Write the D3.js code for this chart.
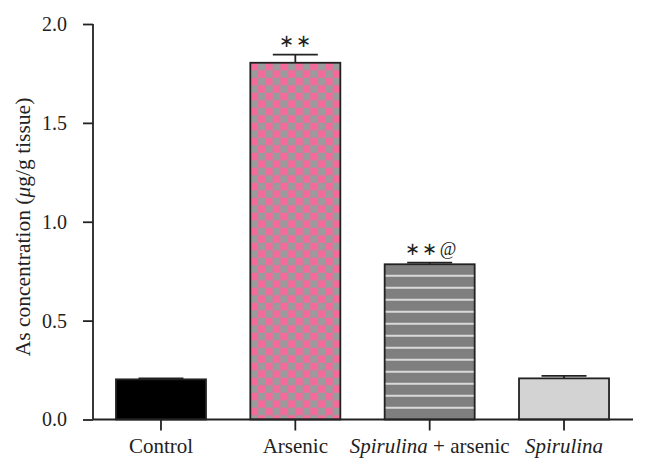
<!DOCTYPE html>
<html><head><meta charset="utf-8">
<script src="https://cdn.jsdelivr.net/npm/d3@7"></script>
<style>body{margin:0;background:#fff}svg{display:block}text{font-family:"Liberation Serif","Times New Roman",serif;fill:#222}</style>
</head><body>
<svg id="c" width="647" height="474"></svg>
<script>
const categories = ["Control", "Arsenic", "Spirulina + arsenic", "Spirulina"];
const values = [0.203, 1.804, 0.785, 0.208];
const errors = [0.005, 0.041, 0.008, 0.013];
const annotations = ["", "**", "**@", ""];
const yTicks = [0.0, 0.5, 1.0, 1.5, 2.0];

const svg = d3.select("#c");
const x0 = 93, y0 = 419.5;
const x = d3.scaleBand().domain(categories).range([x0, 632]).paddingInner(0.33).paddingOuter(0.171);
const y = d3.scaleLinear().domain([0,2]).range([y0, 24]);

const defs = svg.append("defs");
const cs = 7.5;
const cb = defs.append("pattern").attr("id","checker").attr("patternUnits","userSpaceOnUse")
  .attr("width",2*cs).attr("height",2*cs).attr("x",x(categories[1])).attr("y",y(values[1]));
cb.append("rect").attr("width",2*cs).attr("height",2*cs).attr("fill","#9b9b9b");
cb.append("rect").attr("width",cs).attr("height",cs).attr("fill","#f46a9b");
cb.append("rect").attr("x",cs).attr("y",cs).attr("width",cs).attr("height",cs).attr("fill","#f46a9b");
const st = defs.append("pattern").attr("id","stripes").attr("patternUnits","userSpaceOnUse")
  .attr("width",10).attr("height",12).attr("x",0).attr("y",y(values[2])+4.5);
st.append("rect").attr("width",10).attr("height",12).attr("fill","#7f7f7f");
st.append("rect").attr("y",6).attr("width",10).attr("height",2).attr("fill","#d9d9d9");

const fills = ["#000000","url(#checker)","url(#stripes)","#d3d3d3"];

// bars
svg.selectAll("rect.bar").data(categories).enter().append("rect").attr("class","bar")
  .attr("x", d=>x(d)).attr("width", x.bandwidth())
  .attr("y", (d,i)=>y(values[i])).attr("height",(d,i)=>y0-y(values[i]))
  .attr("fill",(d,i)=>fills[i]).attr("stroke","#222").attr("stroke-width",1.8);

// error bars
const eg = svg.append("g").attr("stroke","#222").attr("stroke-width",1.8);
categories.forEach((c,i)=>{
  const cx = x(c)+x.bandwidth()/2, top = y(values[i]+errors[i]);
  eg.append("line").attr("x1",cx).attr("x2",cx).attr("y1",y(values[i])).attr("y2",top);
  eg.append("line").attr("x1",cx-22.5).attr("x2",cx+22.5).attr("y1",top).attr("y2",top);
});

// annotations
categories.forEach((c,i)=>{
  if(!annotations[i]) return;
  svg.append("text").attr("x",x(c)+x.bandwidth()/2 + (annotations[i].length>2?2:1)).attr("y",y(values[i]+errors[i])-8)
    .attr("text-anchor","middle").attr("font-size",18).attr("letter-spacing",2.5).attr("fill","#333")
    .text(annotations[i].replace(/\*/g,"∗"));
});

// y axis
const yAxis = d3.axisLeft(y).tickValues(yTicks).tickFormat(d3.format(".1f")).tickSize(10).tickPadding(16);
const ga = svg.append("g").attr("transform",`translate(${x0},0)`).call(yAxis);
ga.select(".domain").attr("stroke","#222").attr("stroke-width",1.8).attr("d",`M0,${y(2)}V${y0}`);
ga.selectAll(".tick line").attr("stroke","#222").attr("stroke-width",1.8);
ga.selectAll(".tick text").attr("font-size",20).attr("font-family","Liberation Serif, serif").attr("fill","#222");

// x axis
const xAxis = d3.axisBottom(x).tickSize(11).tickFormat("");
const gx = svg.append("g").attr("transform",`translate(0,${y0})`).call(xAxis);
gx.select(".domain").attr("stroke","#222").attr("stroke-width",1.8).attr("d",`M${x0},0H633`);
gx.selectAll(".tick line").attr("stroke","#222").attr("stroke-width",1.8);

// x labels with italics
const lab = svg.append("g");
categories.forEach(c=>{
  const t = lab.append("text").attr("x",x(c)+x.bandwidth()/2).attr("y",453).attr("text-anchor","middle").attr("font-size",21);
  if(c.startsWith("Spirulina")){
    t.append("tspan").attr("font-style","italic").text("Spirulina");
    if(c.length>9) t.append("tspan").text(c.slice(9));
  } else t.text(c);
});

// y label
const yl = svg.append("text").attr("transform","translate(30,227) rotate(-90)").attr("text-anchor","middle").attr("font-size",21.5);
yl.append("tspan").text("As concentration (");
yl.append("tspan").attr("font-style","italic").text("μ");
yl.append("tspan").text("g/g tissue)");
</script>
</body></html>
